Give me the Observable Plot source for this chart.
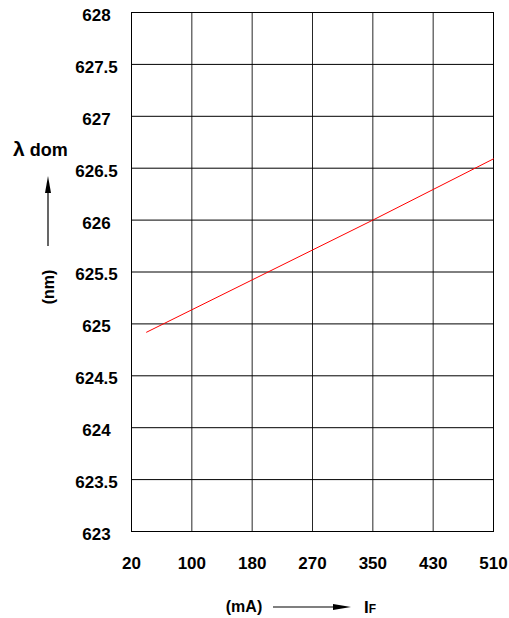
<!DOCTYPE html>
<html>
<head>
<meta charset="utf-8">
<script src="https://cdn.jsdelivr.net/npm/d3@7"></script>
<script src="https://cdn.jsdelivr.net/npm/@observablehq/plot@0.6"></script>
<style>
  html, body { margin: 0; padding: 0; background: #fff; }
  #chart { position: relative; width: 509px; height: 618px; }
  svg { font-family: "Liberation Sans", "DejaVu Sans", Arial, sans-serif; }
</style>
</head>
<body>
<div id="chart"></div>
<script>
// Data
const xTicks = [20, 100, 180, 270, 350, 430, 510];           // IF (mA), evenly spaced on the chart
const yTicks = [623, 623.5, 624, 624.5, 625, 625.5, 626, 626.5, 627, 627.5, 628];
const yTickLabels = ["623", "623.5", "624", "624.5", "625", "625.5", "626", "626.5", "627", "627.5", "628"];
const currentMA = [40, 350, 510];
const lambdaDom = [624.92, 626.0, 626.59];

const series = currentMA.map((x, i) => ({x, y: lambdaDom[i]}));

const W = 509, H = 618;
const mL = 131, mR = 16, mT = 12, mB = 87;

const plot = Plot.plot({
  width: W,
  height: H,
  marginLeft: mL,
  marginRight: mR,
  marginTop: mT,
  marginBottom: mB,
  style: {fontFamily: "'Liberation Sans', 'DejaVu Sans', Arial, sans-serif", fontSize: "17px", fontWeight: "bold", color: "#000", background: "#fff"},
  x: {type: "linear", domain: xTicks, label: null},
  y: {domain: [yTicks[0], yTicks[yTicks.length - 1]], label: null},
  marks: [
    Plot.gridX(xTicks, {stroke: "#000", strokeOpacity: 0.85, strokeWidth: 1}),
    Plot.gridY(yTicks, {stroke: "#000", strokeOpacity: 1, strokeWidth: 1}),
    Plot.frame({stroke: "#000", strokeWidth: 1}),
    Plot.axisX({ticks: xTicks, tickSize: 0, tickPadding: 25, label: null, tickFormat: d => String(d), fontSize: 17, fontWeight: "bold"}),
    Plot.axisY({ticks: yTicks, tickSize: 0, tickPadding: 35, textAnchor: "middle", dy: 3, label: null,
      tickFormat: (d) => yTickLabels[yTicks.indexOf(d)], fontSize: 17, fontWeight: "bold"}),
    Plot.line(series, {x: "x", y: "y", stroke: "#ff0000", strokeWidth: 1})
  ]
});

document.getElementById("chart").appendChild(plot);

// Axis titles and arrows (annotation layer)
const svg = d3.select(plot);
const ann = svg.append("g").attr("fill", "#000").attr("font-weight", "bold").attr("text-anchor", "start");

// Y title: λ dom, arrow up, (nm)
const lam = ann.append("text").attr("x", 13).attr("y", 156).attr("font-size", 18);
lam.append("tspan").attr("font-size", 21).text("λ");
lam.append("tspan").text(" dom");
ann.append("line").attr("x1", 48).attr("x2", 48).attr("y1", 246).attr("y2", 190)
  .attr("stroke", "#000").attr("stroke-width", 1.2);
ann.append("path").attr("d", "M48,176 L45,193 L51,193 Z");
ann.append("text").attr("transform", "translate(54,287) rotate(-90)")
  .attr("text-anchor", "middle").attr("font-size", 16).text("(nm)");

// X title: (mA), arrow right, IF
ann.append("text").attr("x", 244).attr("y", 612).attr("text-anchor", "middle").attr("font-size", 16).text("(mA)");
ann.append("line").attr("x1", 273).attr("x2", 336).attr("y1", 607).attr("y2", 607)
  .attr("stroke", "#000").attr("stroke-width", 1.2);
ann.append("path").attr("d", "M351,607 L333,604 L333,610 Z");
const ifT = ann.append("text").attr("x", 364).attr("y", 613).attr("font-size", 17);
ifT.append("tspan").text("I");
ifT.append("tspan").attr("font-size", 12).text("F");
</script>
</body>
</html>
